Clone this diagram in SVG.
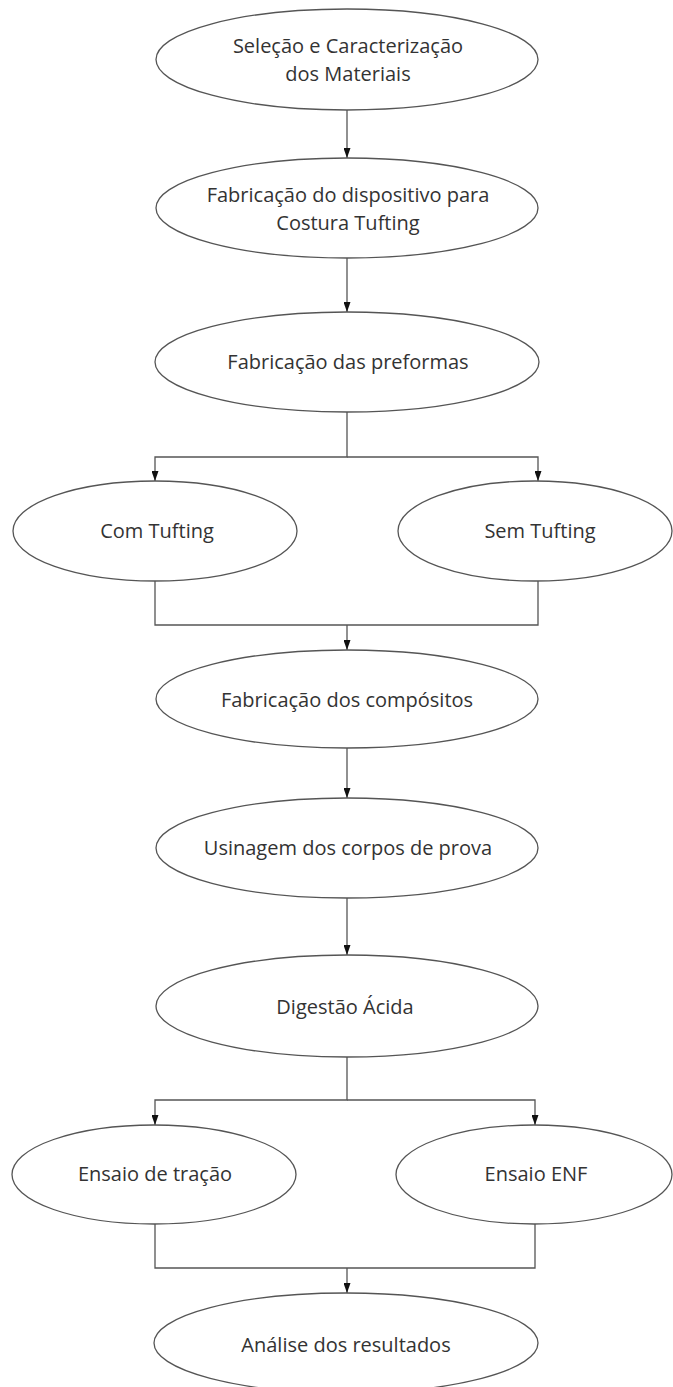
<svg xmlns="http://www.w3.org/2000/svg" width="673" height="1387" viewBox="0 0 673 1387">
<defs>
<style>
.n{fill:#fff;stroke:#555;stroke-width:1.3}
.t{font-family:"Open Sans","Liberation Sans",sans-serif;font-size:20px;fill:#333;text-anchor:middle}
.c{fill:none;stroke:#555;stroke-width:1.3}
</style>
<marker id="ah" viewBox="0 0 10 7" markerWidth="10" markerHeight="7" refX="10" refY="3.5" orient="auto" markerUnits="userSpaceOnUse">
<path d="M0,0 L10,3.5 L0,7 z" fill="#111"/>
</marker>
</defs>
<rect width="673" height="1387" fill="#fff"/>
<g id="connectors">
<path class="c" d="M347,110 V158" marker-end="url(#ah)"/>
<path class="c" d="M347,258 V312" marker-end="url(#ah)"/>
<path class="c" d="M347,412 V457 H155 V481" marker-end="url(#ah)"/>
<path class="c" d="M347,457 H538 V481" marker-end="url(#ah)"/>
<path class="c" d="M155,581 V625 H538 V581"/>
<path class="c" d="M347,625 V650" marker-end="url(#ah)"/>
<path class="c" d="M347,748 V798" marker-end="url(#ah)"/>
<path class="c" d="M347,898 V955" marker-end="url(#ah)"/>
<path class="c" d="M347,1057 V1100 H155 V1125" marker-end="url(#ah)"/>
<path class="c" d="M347,1100 H535 V1125" marker-end="url(#ah)"/>
<path class="c" d="M155,1224 V1268 H535 V1224"/>
<path class="c" d="M347,1268 V1293" marker-end="url(#ah)"/>
</g>
<g id="n1"><ellipse class="n" cx="347" cy="59.5" rx="191" ry="50.5"/><text class="t" x="348" y="53">Seleção e Caracterização</text><text class="t" x="348" y="81">dos Materiais</text></g>
<g id="n2"><ellipse class="n" cx="347" cy="208" rx="191" ry="50"/><text class="t" x="348" y="202">Fabricação do dispositivo para</text><text class="t" x="348" y="230">Costura Tufting</text></g>
<g id="n3"><ellipse class="n" cx="347" cy="362" rx="192" ry="50"/><text class="t" x="348" y="369">Fabricação das preformas</text></g>
<g id="n4"><ellipse class="n" cx="155" cy="531" rx="142" ry="50"/><text class="t" x="157" y="538">Com Tufting</text></g>
<g id="n5"><ellipse class="n" cx="535" cy="531" rx="137" ry="50"/><text class="t" x="540" y="538">Sem Tufting</text></g>
<g id="n6"><ellipse class="n" cx="347" cy="699" rx="191" ry="49"/><text class="t" x="347" y="707">Fabricação dos compósitos</text></g>
<g id="n7"><ellipse class="n" cx="347" cy="848" rx="191" ry="50"/><text class="t" x="348" y="855">Usinagem dos corpos de prova</text></g>
<g id="n8"><ellipse class="n" cx="347" cy="1006" rx="191" ry="51"/><text class="t" x="345" y="1014">Digestão Ácida</text></g>
<g id="n9"><ellipse class="n" cx="154" cy="1174.5" rx="142" ry="49.5"/><text class="t" x="155" y="1181">Ensaio de tração</text></g>
<g id="n10"><ellipse class="n" cx="534" cy="1174.5" rx="138" ry="49.5"/><text class="t" x="536" y="1181">Ensaio ENF</text></g>
<g id="n11"><ellipse class="n" cx="346" cy="1343" rx="192" ry="50"/><text class="t" x="346" y="1352">Análise dos resultados</text></g>
</svg>
